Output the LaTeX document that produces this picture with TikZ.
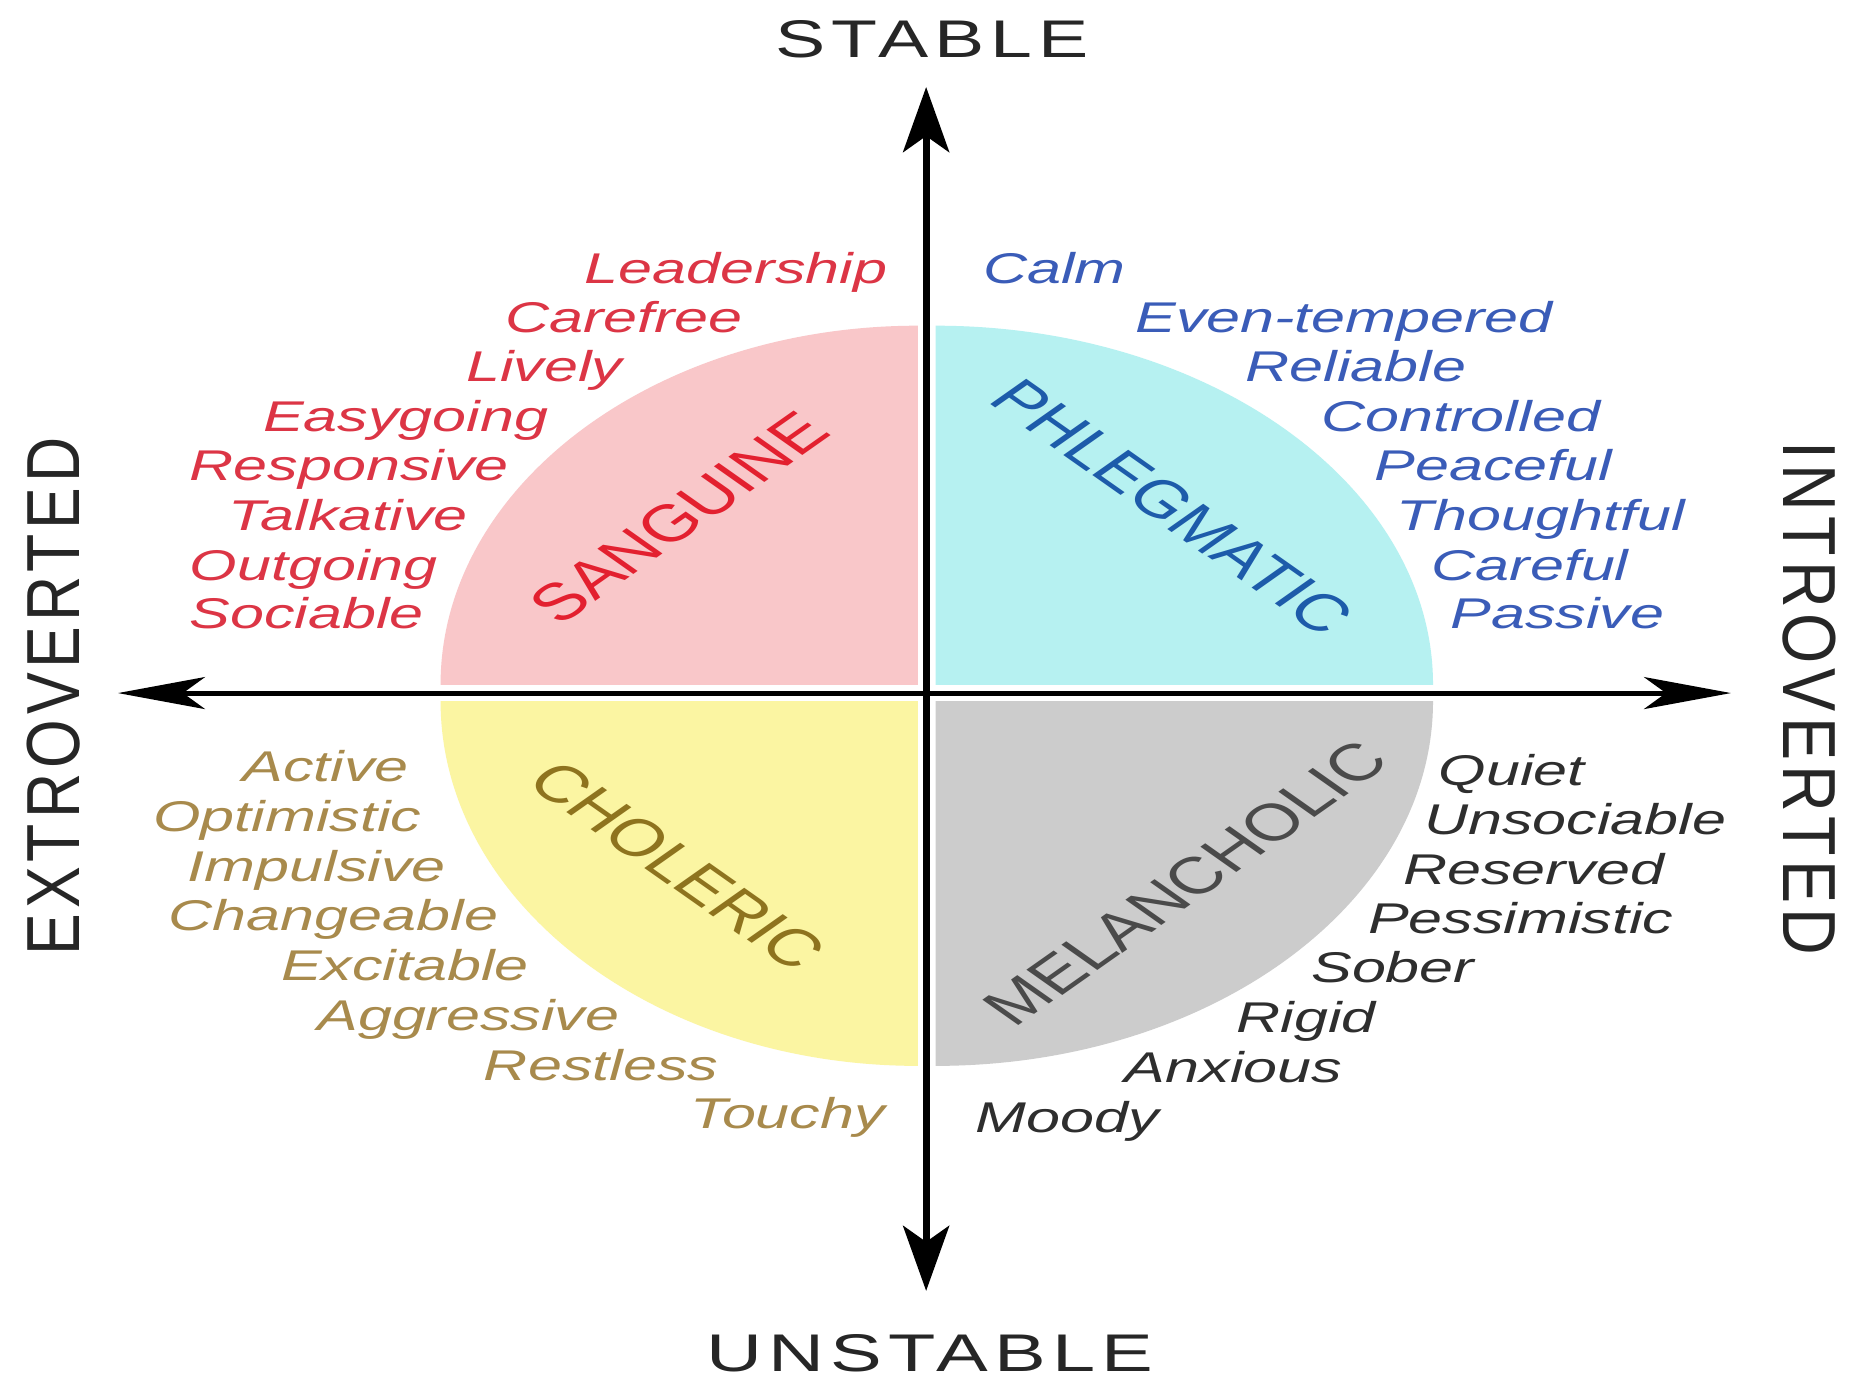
\documentclass[tikz,border=0pt]{standalone}
\usepackage{fontspec}
\setmainfont{Liberation Sans}
\newfontfamily\axisfont[LetterSpace=8]{Liberation Sans}
\usetikzlibrary{arrows.meta}
\definecolor{sangfill}{HTML}{F9C7C9}
\definecolor{phlfill}{HTML}{B6F1F1}
\definecolor{chofill}{HTML}{FBF5A2}
\definecolor{melfill}{HTML}{CCCCCC}
\definecolor{sangtxt}{HTML}{DC3545}
\definecolor{sangtitle}{HTML}{E3202F}
\definecolor{phltxt}{HTML}{3A5CB8}
\definecolor{phltitle}{HTML}{1D5BAA}
\definecolor{chotxt}{HTML}{A88A4C}
\definecolor{chotitle}{HTML}{8E731E}
\definecolor{meltxt}{HTML}{2E2E2E}
\definecolor{meltitle}{HTML}{4A4A4A}
\begin{document}
\begin{tikzpicture}[x=1.1843pt, y=-1.1843pt,
  word/.style={anchor=base, inner sep=0pt, xscale=1.42, font=\fontsize{43}{43}\selectfont\itshape},
  title/.style={inner sep=0pt, font=\fontsize{52}{52}\selectfont},
  axislabel/.style={inner sep=0pt, font=\axisfont\fontsize{53}{53}\selectfont, text=black!85},
  vaxis/.style={line width=7pt, {Stealth[length=65pt,width=46pt,inset=16pt]}-{Stealth[length=65pt,width=46pt,inset=16pt]}},
  haxis/.style={line width=5pt, {Stealth[length=87pt,width=32pt,inset=22pt]}-{Stealth[length=87pt,width=32pt,inset=22pt]}}
]
\useasboundingbox[fill=white] (0,0) rectangle (1568,1174);

% quadrants
\begin{scope}
  \clip (775,578) rectangle (360,260);
  \fill[sangfill] (775,578) ellipse [x radius=403, y radius=303];
\end{scope}
\begin{scope}
  \clip (790,578) rectangle (1230,260);
  \fill[phlfill] (790,578) ellipse [x radius=420, y radius=303];
\end{scope}
\begin{scope}
  \clip (775,592) rectangle (360,920);
  \fill[chofill] (775,592) ellipse [x radius=403, y radius=308];
\end{scope}
\begin{scope}
  \clip (790,592) rectangle (1230,920);
  \fill[melfill] (790,592) ellipse [x radius=420, y radius=308];
\end{scope}

% axes
\coordinate (ytop) at (782,73.5);
\coordinate (ybot) at (782,1090);
\coordinate (xleft) at (99.6,585.2);
\coordinate (xright) at (1461.6,585.2);
\draw[vaxis] (ytop) -- (ybot);
\draw[haxis] (xleft) -- (xright);

% axis labels
\node[axislabel, xscale=1.42] (stable) at (787,33.5) {STABLE};
\node[axislabel, xscale=1.42, xscale=1.03] (unstable) at (785,1143) {UNSTABLE};
\node[axislabel, xscale=1.42, rotate=90, xscale=1.18] (extro) at (45,588) {EXTROVERTED};
\node[axislabel, xscale=1.42, rotate=-90, xscale=1.22] (intro) at (1528,590) {INTROVERTED};

% titles
\node[title, text=sangtitle, xscale=1.42, rotate=45] (sanguine) at (573,437) {SANGUINE};
\node[title, text=phltitle, xscale=1.42, rotate=-45] (phlegmatic) at (990,428) {PHLEGMATIC};
\node[title, text=chotitle, xscale=1.42, rotate=-45] (choleric) at (572,731) {CHOLERIC};
\node[title, text=meltitle, xscale=1.42, rotate=45] (melancholic) at (1001,746) {MELANCHOLIC};

% sanguine words
\begin{scope}[every node/.append style={word, text=sangtxt}]
\node (s1) at (621.5,239) {Leadership};
\node (s2) at (527,281) {Carefree};
\node (s3) at (459.5,322) {Lively};
\node (s4) at (342.5,364) {Easygoing};
\node (s5) at (295,406) {Responsive};
\node (s6) at (294,448) {Talkative};
\node (s7) at (265,490) {Outgoing};
\node (s8) at (259,531) {Sociable};
\end{scope}

% phlegmatic words
\begin{scope}[every node/.append style={word, text=phltxt}]
\node (p1) at (890.5,239) {Calm};
\node (p2) at (1135,281) {Even-tempered};
\node (p3) at (1145,322) {Reliable};
\node (p4) at (1233.5,364) {Controlled};
\node (p5) at (1261,406) {Peaceful};
\node (p6) at (1301,448) {Thoughtful};
\node (p7) at (1292,490) {Careful};
\node (p8) at (1315,531) {Passive};
\end{scope}

% choleric words
\begin{scope}[every node/.append style={word, text=chotxt}]
\node (c1) at (275,660) {Active};
\node (c2) at (242.5,702) {Optimistic};
\node (c3) at (267.5,744) {Impulsive};
\node (c4) at (281.5,786) {Changeable};
\node (c5) at (342,828) {Excitable};
\node (c6) at (395.5,870) {Aggressive};
\node (c7) at (507.5,912) {Restless};
\node (c8) at (665,953) {Touchy};
\end{scope}

% melancholic words
\begin{scope}[every node/.append style={word, text=meltxt}]
\node (m1) at (1276.5,663) {Quiet};
\node (m2) at (1330,705) {Unsociable};
\node (m3) at (1295,747) {Reserved};
\node (m4) at (1284,788) {Pessimistic};
\node (m5) at (1176,830) {Sober};
\node (m6) at (1103,872) {Rigid};
\node (m7) at (1041.5,914) {Anxious};
\node (m8) at (901,956) {Moody};
\end{scope}
\end{tikzpicture}
\end{document}
